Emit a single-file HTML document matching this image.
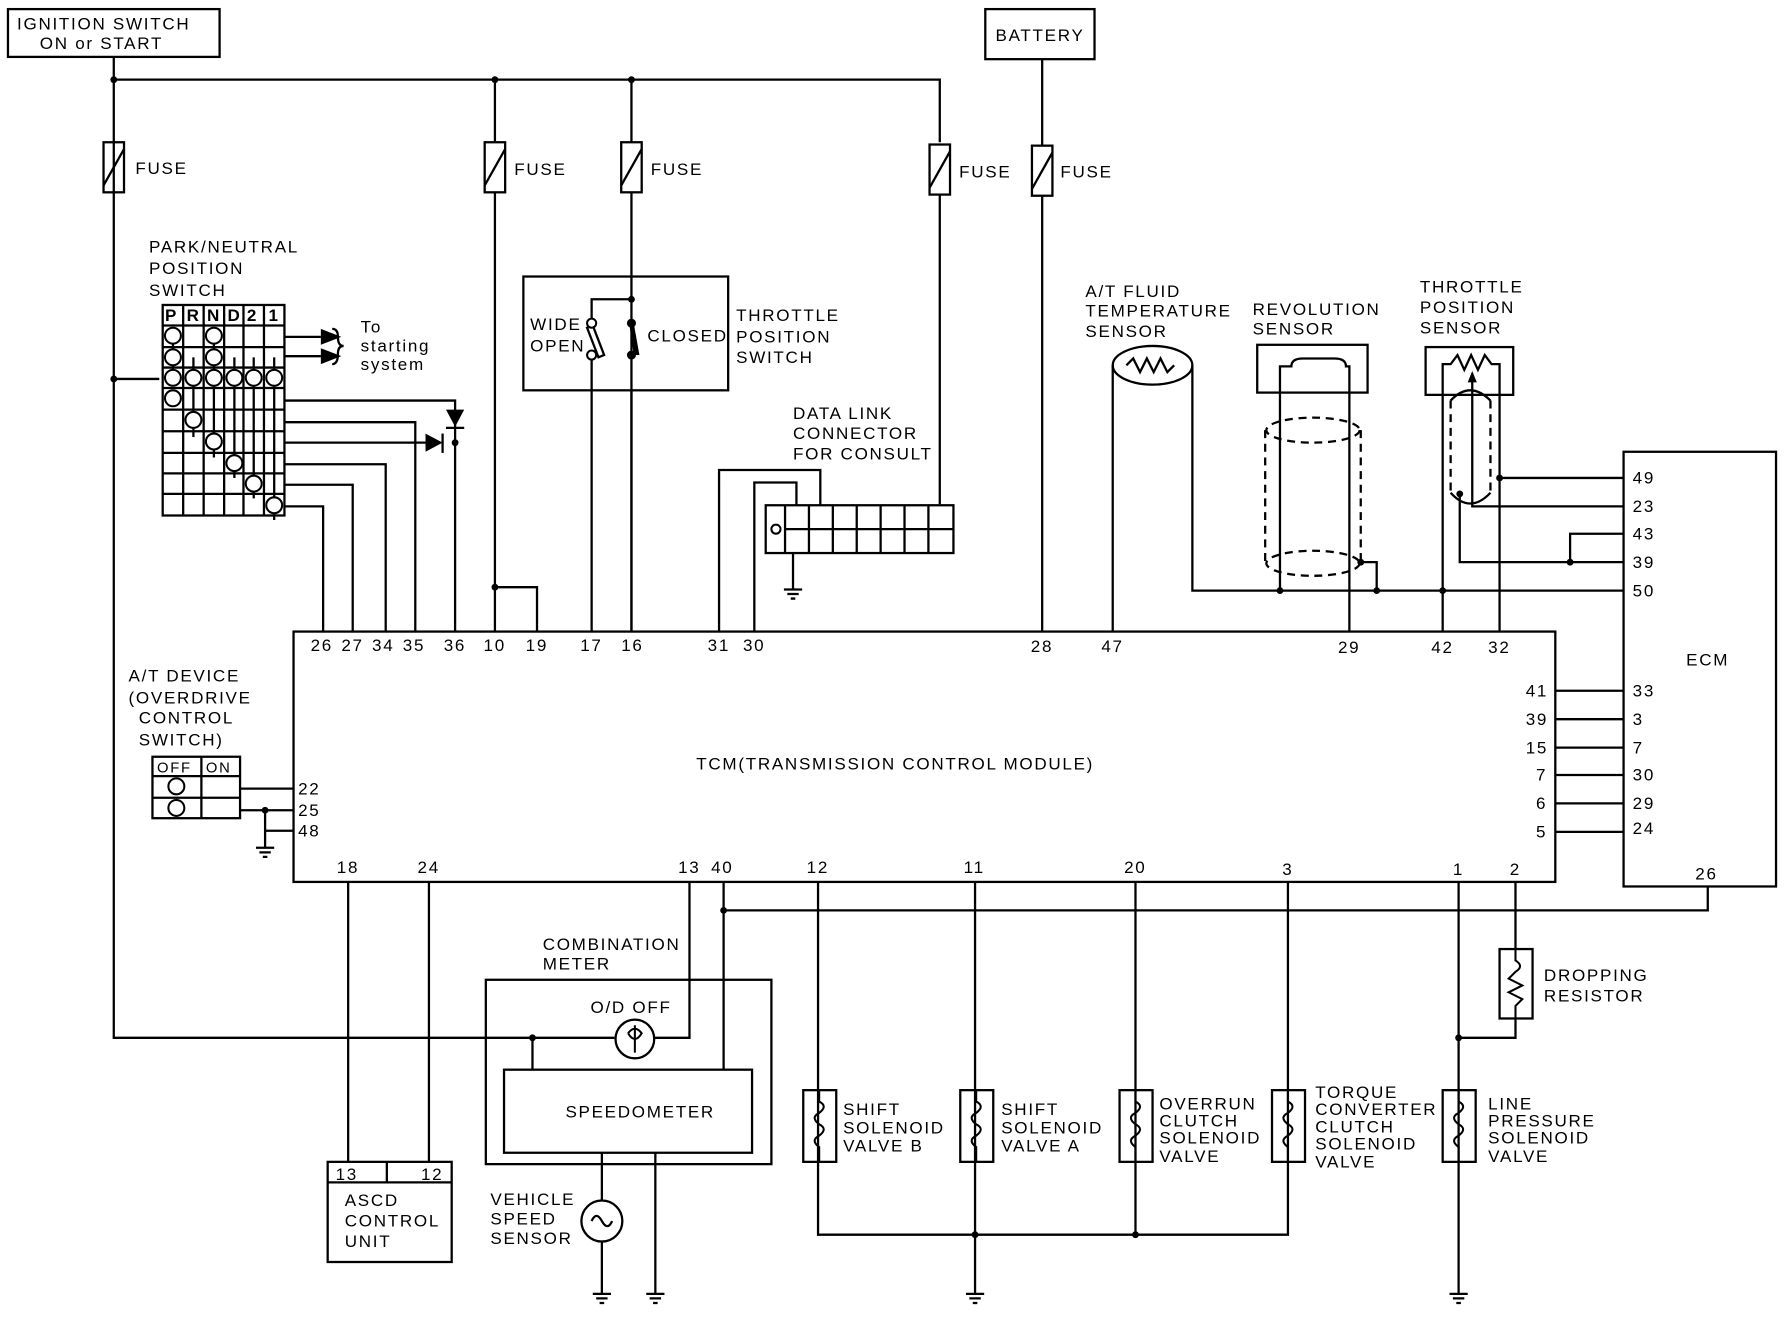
<!DOCTYPE html>
<html><head><meta charset="utf-8"><style>
html,body{margin:0;padding:0;background:#fff}
svg{display:block}
text{font-family:"Liberation Sans",sans-serif;font-size:15px;fill:#000;letter-spacing:1.5px}
</style></head><body>
<svg width="1784" height="1328" viewBox="0 0 1568 1167" preserveAspectRatio="none" xmlns="http://www.w3.org/2000/svg">
<g stroke="#000" stroke-width="2" fill="none">
<rect x="7" y="8" width="186" height="42"/>
<rect x="866" y="8" width="96" height="44"/>
<path d="M100 50V912H540M100 70H826V125M435 70V125M555 70V125M916 52V128"/>
<rect x="91" y="125" width="18" height="44"/><path d="M91 163L109 131"/>
<rect x="426" y="125" width="18" height="44"/><path d="M426 163L444 131"/>
<rect x="546" y="125" width="18" height="44"/><path d="M546 163L564 131"/>
<rect x="817" y="127" width="18" height="44"/><path d="M817 165L835 133"/>
<rect x="907" y="128" width="18" height="44"/><path d="M907 166L925 134"/>
<path d="M435 169V555M555 169V555M826 171V443M916 172V555M100 333H140"/>
<path d="M435 516H472V555"/>
<rect x="143" y="268" width="107" height="185"/>
<path d="M161 268V453M179 268V453M197 268V453M214 268V453M232 268V453"/>
<path d="M143 286H250M143 305H250M143 323H250M143 341H250M143 360H250M143 379H250M143 398H250M143 416H250M143 434H250"/>
<path d="M170 314V384M188 314V402M206 314V420M223 314V438M241 314V457"/>
<path d="M152 295V332M188 295V314"/>
<path d="M250 296H282M250 313H282"/>
<path d="M250 352H400V555M250 371H365V555M250 389H380M250 408H339V555M250 426H310V555M250 445H284V555"/>
<path d="M292 289Q297 289 297 296Q297 304 302 304Q297 304 297 311Q297 320 292 320"/>
<path d="M392 376H408"/>
<path d="M389 381V398"/>
<rect x="460" y="243" width="180" height="100"/>
<path d="M555 263H520V281M520 315V555"/>
<path d="M516 288L526 314L531 312L521 286Z"/>
<path d="M555 343V555"/>
<rect x="673" y="444" width="165" height="42"/>
<path d="M690 444V486M711 444V486M732 444V486M753 444V486M774 444V486M795 444V486M816 444V486M690 465H838"/>
<path d="M632 555V413H721V444M663 555V424H700V444M697 486V518"/>
<rect x="258" y="555" width="1109" height="220"/>
<rect x="1427" y="397" width="134" height="382"/>
<path d="M1367 607H1427M1367 632H1427M1367 657H1427M1367 681H1427M1367 706H1427M1367 731H1427"/>
<ellipse cx="1013" cy="321" rx="35" ry="17"/>
<path d="M990 321L996 315L1002 327L1008 315L1014 327L1020 315L1026 327L1032 321"/>
<path d="M978 321V555M1048 321V519H1427"/>
<rect x="1105" y="303" width="97" height="42"/>
<path d="M1125 519V322H1135Q1135 315 1145 315H1173Q1183 315 1183 322H1186V555"/>
<path d="M1196 494H1210V519"/>
<rect x="1253" y="305" width="77" height="42"/>
<path d="M1268 555V320L1275 320L1281 312L1287 325L1293 312L1299 325L1305 312L1311 320H1318V555"/>
<path d="M1294 328V445H1427M1318 420H1427M1380 494V469H1427M1283 434V494H1427"/>
<g stroke-dasharray="7 5">
<ellipse cx="1154" cy="378" rx="41" ry="11"/>
<ellipse cx="1154" cy="495" rx="41" ry="11"/>
<path d="M1112 378V495M1196 378V495"/>
<path d="M1275 352V433M1310 352V433"/>
</g>
<path d="M1275 352Q1292 334 1310 352M1275 433Q1292 452 1310 433"/>
<rect x="134" y="665" width="77" height="54"/>
<path d="M177 665V719M134 682H211M134 701H211"/>
<path d="M211 693H258M211 712H258M233 712V745M233 730H258"/>
<path d="M636 775V940M606 775V912H575M636 800H1501V779"/>
<rect x="427" y="861" width="251" height="162"/>
<rect x="443" y="940" width="218" height="73"/>
<circle cx="558" cy="913" r="17"/>
<path d="M468 912V940M529 1013V1055M576 1013V1137"/>
<circle cx="529" cy="1073" r="18"/>
<path d="M520 1073Q524 1064 529 1073Q534 1082 538 1073"/>
<path d="M529 1091V1137"/>
<path d="M306 775V1021M377 775V1021"/>
<rect x="288" y="1021" width="109" height="88"/>
<path d="M288 1039H397M340 1021V1039"/>
<rect x="706" y="958" width="29" height="63"/>
<rect x="844" y="958" width="29" height="63"/>
<rect x="984" y="958" width="29" height="63"/>
<rect x="1118" y="958" width="29" height="63"/>
<rect x="1268" y="958" width="29" height="63"/>
<path d="M719 775V1085H1132V775M857 775V1137M998 775V1085M1282 775V1137M1282 912H1332V895M1332 834V775"/>
<rect x="1318" y="834" width="29" height="61"/>
<path d="M689 518H705M692 522H702M695 526H699"/>
<path d="M225 745H241M228 749H238M231 753H235"/>
<path d="M521 1137H537M524 1141H534M527 1145H531"/>
<path d="M568 1137H584M571 1141H581M574 1145H578"/>
<path d="M849 1137H865M852 1141H862M855 1145H859"/>
<path d="M1274 1137H1290M1277 1141H1287M1280 1145H1284"/>
</g>
<g fill="#000" stroke="none">
<circle cx="100" cy="70" r="3"/><circle cx="435" cy="70" r="3"/><circle cx="555" cy="70" r="3"/>
<circle cx="100" cy="333" r="3"/><circle cx="435" cy="516" r="3"/><circle cx="555" cy="263" r="3"/>
<circle cx="400" cy="389" r="3"/>
<circle cx="1125" cy="519" r="3"/><circle cx="1210" cy="519" r="3"/><circle cx="1268" cy="519" r="3"/>
<circle cx="1196" cy="494" r="3"/><circle cx="1318" cy="420" r="3"/><circle cx="1380" cy="494" r="3"/><circle cx="1283" cy="434" r="3"/>
<circle cx="233" cy="712" r="3"/><circle cx="468" cy="912" r="3"/><circle cx="636" cy="800" r="3"/>
<circle cx="857" cy="1085" r="3"/><circle cx="998" cy="1085" r="3"/><circle cx="1282" cy="912" r="3"/>
<path d="M282 289L300 296L282 303Z M282 306L300 313L282 320Z"/>
<path d="M392 360H408L400 375Z"/>
<path d="M374 381V397L389 389Z"/>
<circle cx="555" cy="284" r="4"/><circle cx="555" cy="312" r="4"/>
<path d="M553 284L557 284L562 312L557 312Z"/>
<path d="M1294 326L1290 336H1298Z"/>
</g>
<g fill="#fff" stroke="#000" stroke-width="1.8">
<circle cx="520" cy="284" r="4"/><circle cx="520" cy="312" r="4"/>
<circle cx="682" cy="465" r="4"/>
<circle cx="152" cy="295" r="7"/><circle cx="188" cy="295" r="7"/>
<circle cx="152" cy="314" r="7"/><circle cx="188" cy="314" r="7"/>
<circle cx="152" cy="332" r="7"/><circle cx="170" cy="332" r="7"/><circle cx="188" cy="332" r="7"/><circle cx="206" cy="332" r="7"/><circle cx="223" cy="332" r="7"/><circle cx="241" cy="332" r="7"/>
<circle cx="152" cy="350" r="7"/><circle cx="170" cy="369" r="7"/><circle cx="188" cy="388" r="7"/><circle cx="206" cy="407" r="7"/><circle cx="223" cy="425" r="7"/><circle cx="241" cy="444" r="7"/>
<circle cx="155" cy="691" r="7"/><circle cx="155" cy="710" r="7"/>
</g>
<g stroke="#000" stroke-width="1.8" fill="none">
<path d="M720 958V968Q728 972 720 978Q712 982 720 988Q728 992 720 998Q712 1002 720 1008V1021"/>
<path d="M858 958V968Q866 972 858 978Q850 982 858 988Q866 992 858 998Q850 1002 858 1008V1021"/>
<path d="M998 958V968Q1006 972 998 978Q990 982 998 988Q1006 992 998 998Q990 1002 998 1008V1021"/>
<path d="M1132 958V968Q1140 972 1132 978Q1124 982 1132 988Q1140 992 1132 998Q1124 1002 1132 1008V1021"/>
<path d="M1282 958V968Q1290 972 1282 978Q1274 982 1282 988Q1290 992 1282 998Q1274 1002 1282 1008V1021"/>
<path d="M1332 834V844Q1340 849 1332 854L1326 860L1338 866L1326 872L1338 878L1332 884V895"/>
<path d="M558 901V925M552 908Q558 900 564 908Q558 918 552 908"/>
</g>
<text x="15" y="26">IGNITION SWITCH</text>
<text x="35" y="43">ON or START</text>
<text x="875" y="36">BATTERY</text>
<text x="119" y="153">FUSE</text><text x="452" y="154">FUSE</text><text x="572" y="154">FUSE</text><text x="843" y="156">FUSE</text><text x="932" y="156">FUSE</text>
<text x="131" y="222">PARK/NEUTRAL</text><text x="131" y="241">POSITION</text><text x="131" y="260">SWITCH</text>
<g style="font-size:13px;font-weight:bold">
<text x="145" y="282">P</text><text x="164" y="282">R</text><text x="182" y="282">N</text><text x="200" y="282">D</text><text x="217" y="282">2</text><text x="236" y="282">1</text>
</g>
<text x="317" y="292">To</text><text x="317" y="309">starting</text><text x="317" y="325">system</text>
<text x="466" y="290">WIDE</text><text x="466" y="309">OPEN</text><text x="569" y="300">CLOSED</text>
<text x="647" y="282">THROTTLE</text><text x="647" y="301">POSITION</text><text x="647" y="319">SWITCH</text>
<text x="697" y="368">DATA LINK</text><text x="697" y="386">CONNECTOR</text><text x="697" y="404">FOR CONSULT</text>
<text x="954" y="261">A/T FLUID</text><text x="954" y="278">TEMPERATURE</text><text x="954" y="296">SENSOR</text>
<text x="1101" y="277">REVOLUTION</text><text x="1101" y="294">SENSOR</text>
<text x="1248" y="257">THROTTLE</text><text x="1248" y="275">POSITION</text><text x="1248" y="293">SENSOR</text>
<text x="273" y="572">26</text><text x="300" y="572">27</text><text x="327" y="572">34</text><text x="354" y="572">35</text><text x="390" y="572">36</text><text x="425" y="572">10</text><text x="462" y="572">19</text><text x="510" y="572">17</text><text x="546" y="572">16</text><text x="622" y="572">31</text><text x="653" y="572">30</text><text x="906" y="573">28</text><text x="968" y="573">47</text><text x="1176" y="574">29</text><text x="1258" y="574">42</text><text x="1308" y="574">32</text>
<text x="612" y="676">TCM(TRANSMISSION CONTROL MODULE)</text>
<text x="262" y="698">22</text><text x="262" y="717">25</text><text x="262" y="735">48</text>
<text x="1341" y="612">41</text><text x="1341" y="637">39</text><text x="1341" y="662">15</text><text x="1350" y="686">7</text><text x="1350" y="711">6</text><text x="1350" y="736">5</text>
<text x="1435" y="425">49</text><text x="1435" y="450">23</text><text x="1435" y="474">43</text><text x="1435" y="499">39</text><text x="1435" y="524">50</text>
<text x="1435" y="612">33</text><text x="1435" y="637">3</text><text x="1435" y="662">7</text><text x="1435" y="686">30</text><text x="1435" y="711">29</text><text x="1435" y="733">24</text>
<text x="1482" y="585">ECM</text><text x="1490" y="773">26</text>
<text x="113" y="599">A/T DEVICE</text><text x="113" y="618">(OVERDRIVE</text><text x="122" y="636">CONTROL</text><text x="122" y="655">SWITCH)</text>
<text x="138" y="679" style="font-size:13px">OFF</text><text x="181" y="679" style="font-size:13px">ON</text>
<text x="296" y="767">18</text><text x="367" y="767">24</text><text x="596" y="767">13</text><text x="625" y="767">40</text><text x="709" y="767">12</text><text x="847" y="767">11</text><text x="988" y="767">20</text><text x="1127" y="769">3</text><text x="1277" y="769">1</text><text x="1327" y="769">2</text>
<text x="477" y="835">COMBINATION</text><text x="477" y="852">METER</text>
<text x="519" y="890">O/D OFF</text>
<text x="497" y="982">SPEEDOMETER</text>
<text x="295" y="1037">13</text><text x="370" y="1037">12</text>
<text x="303" y="1060">ASCD</text><text x="303" y="1078">CONTROL</text><text x="303" y="1096">UNIT</text>
<text x="431" y="1059">VEHICLE</text><text x="431" y="1076">SPEED</text><text x="431" y="1093">SENSOR</text>
<text x="741" y="980">SHIFT</text><text x="741" y="996">SOLENOID</text><text x="741" y="1012">VALVE B</text>
<text x="880" y="980">SHIFT</text><text x="880" y="996">SOLENOID</text><text x="880" y="1012">VALVE A</text>
<text x="1019" y="975">OVERRUN</text><text x="1019" y="990">CLUTCH</text><text x="1019" y="1005">SOLENOID</text><text x="1019" y="1021">VALVE</text>
<text x="1156" y="965">TORQUE</text><text x="1156" y="980">CONVERTER</text><text x="1156" y="995">CLUTCH</text><text x="1156" y="1010">SOLENOID</text><text x="1156" y="1026">VALVE</text>
<text x="1308" y="975">LINE</text><text x="1308" y="990">PRESSURE</text><text x="1308" y="1005">SOLENOID</text><text x="1308" y="1021">VALVE</text>
<text x="1357" y="862">DROPPING</text><text x="1357" y="880">RESISTOR</text>
</svg>
</body></html>
